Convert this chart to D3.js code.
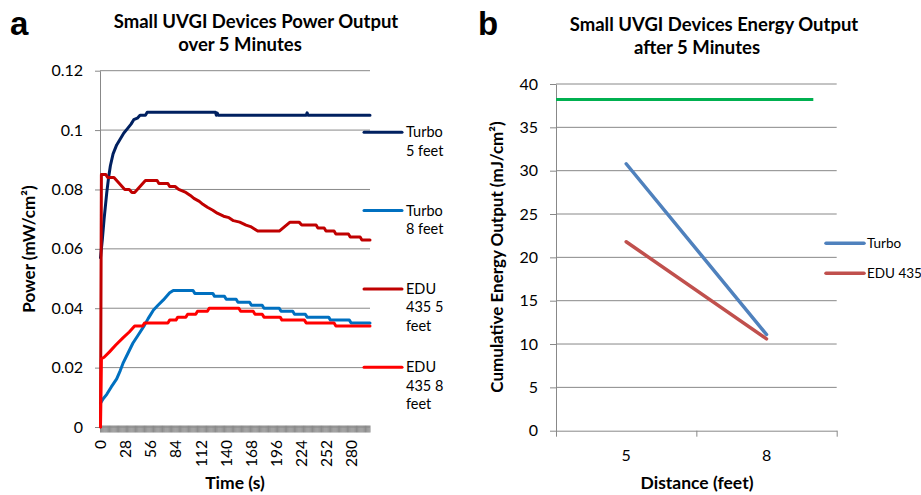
<!DOCTYPE html>
<html><head><meta charset="utf-8">
<script src="https://cdn.jsdelivr.net/npm/d3@7/dist/d3.min.js"></script>
<style>
body{margin:0;background:#fff}
text{font-family:Lato,"Open Sans",sans-serif;fill:#000}
</style>
</head><body>
<svg id="chart" width="921" height="495"></svg>
<script>
// ---------- Panel a data ----------
const timeTicks = [0,28,56,84,112,140,168,196,224,252,280];
const powerTicks = [0,0.02,0.04,0.06,0.08,0.1,0.12];
const turbo5 = [[0,0.057],[2,0.063],[4,0.070],[7,0.079],[9,0.084],[11,0.088],[14,0.092],[18,0.095],[22,0.097],[26,0.099],[30,0.1005],[34,0.102],[37,0.1035],[41,0.104],[44,0.105],[50,0.105],[52,0.106],[128,0.106],[129,0.105],[130,0.1057],[131,0.105],[229,0.105],[230,0.1058],[231,0.105],[300,0.105]];
const turbo8 = [[0,0.008],[3,0.0095],[7,0.011],[12,0.0135],[18,0.0162],[22,0.019],[25,0.0214],[30,0.0245],[36,0.0282],[42,0.031],[48,0.0338],[53,0.0365],[59,0.0394],[64,0.041],[70,0.0428],[77,0.0452],[81,0.046],[103,0.046],[105,0.045],[125,0.045],[127,0.044],[138,0.044],[140,0.043],[151,0.043],[153,0.042],[166,0.042],[168,0.041],[180,0.041],[182,0.040],[199,0.040],[201,0.039],[214,0.039],[216,0.038],[228,0.038],[230,0.037],[254,0.037],[256,0.036],[277,0.036],[279,0.035],[300,0.035]];
const edu5 = [[0,0],[1,0.085],[6,0.085],[8,0.084],[15,0.084],[18,0.083],[21,0.082],[24,0.081],[27,0.080],[32,0.080],[35,0.079],[38,0.079],[41,0.080],[44,0.081],[47,0.082],[50,0.083],[63,0.083],[65,0.082],[75,0.082],[77,0.081],[83,0.081],[87,0.080],[95,0.079],[100,0.078],[104,0.077],[110,0.076],[114,0.075],[119,0.074],[125,0.073],[130,0.072],[137,0.071],[143,0.0705],[148,0.0695],[155,0.069],[162,0.068],[167,0.0675],[175,0.066],[199,0.066],[203,0.067],[207,0.068],[211,0.069],[221,0.069],[224,0.068],[240,0.068],[242,0.067],[249,0.067],[251,0.066],[260,0.066],[262,0.065],[276,0.065],[278,0.064],[289,0.064],[291,0.063],[300,0.063]];
const edu8 = [[0,0],[1,0.023],[4,0.0235],[10,0.0253],[17,0.0276],[25,0.030],[32,0.032],[38,0.034],[47,0.034],[49,0.035],[75,0.035],[77,0.036],[84,0.036],[86,0.037],[95,0.037],[97,0.038],[106,0.038],[108,0.039],[119,0.039],[121,0.040],[154,0.040],[156,0.039],[170,0.039],[172,0.038],[180,0.038],[182,0.037],[200,0.037],[202,0.036],[227,0.036],[229,0.035],[260,0.035],[262,0.034],[300,0.034]];
const seriesA = [
  {name:["Turbo","5 feet"], color:"#002060", data:turbo5},
  {name:["Turbo","8 feet"], color:"#0070c0", data:turbo8},
  {name:["EDU","435 5","feet"], color:"#c00000", data:edu5},
  {name:["EDU","435 8","feet"], color:"#ff0000", data:edu8}
];

// ---------- Panel b data ----------
const distances = [5, 8];
const energyTicks = [0,5,10,15,20,25,30,35,40];
const turboEnergy = [30.8, 11.1];
const eduEnergy = [21.8, 10.6];
const greenLevel = 38.2;
const greenSpan = [3.5, 9];
const seriesB = [
  {name:"Turbo", color:"#4f81bd", values:turboEnergy},
  {name:"EDU 435", color:"#c0504d", values:eduEnergy}
];

const svg = d3.select("#chart");
const grid = "#888888";

// ================= Panel a =================
const xL = d3.scaleLinear().domain([0,300]).range([100.5,370]);
const yL = d3.scaleLinear().domain([0,0.12]).range([427,70.7]);
const gA = svg.append("g");

gA.append("text").attr("x",10).attr("y",35).style("font-family","Liberation Sans, Arial, sans-serif")
  .style("font-weight","bold").style("font-size","33px").text("a");
gA.append("text").attr("x",256).attr("y",28).attr("text-anchor","middle")
  .style("font-weight","bold").style("font-size","18.5px").text("Small UVGI Devices Power Output");
gA.append("text").attr("x",240).attr("y",51).attr("text-anchor","middle")
  .style("font-weight","bold").style("font-size","18.5px").text("over 5 Minutes");

// gridlines
gA.selectAll("line.grid").data(powerTicks.filter(d=>d>0)).join("line")
  .attr("x1",100).attr("x2",370).attr("y1",d=>yL(d)).attr("y2",d=>yL(d))
  .attr("stroke",grid).attr("stroke-width",1);

// y axis
const yAxL = gA.append("g").attr("transform","translate(100,0)")
  .call(d3.axisLeft(yL).tickValues(powerTicks).tickSize(5).tickSizeOuter(0).tickPadding(12)
    .tickFormat(d=>String(+d.toFixed(2))));
yAxL.select(".domain").attr("stroke",grid);
yAxL.selectAll(".tick line").attr("stroke",grid);
yAxL.selectAll(".tick text").style("font-size","16px").style("font-family","Lato, sans-serif");

// dense category tick band on x axis
gA.selectAll("line.band").data(d3.range(0,301)).join("line")
  .attr("x1",d=>xL(d)).attr("x2",d=>xL(d)).attr("y1",425.5).attr("y2",432.5)
  .attr("stroke","#8c8c8c").attr("stroke-width",1);
gA.append("line").attr("x1",100).attr("x2",370).attr("y1",427).attr("y2",427).attr("stroke",grid);

// x tick labels
gA.selectAll("text.xt").data(timeTicks).join("text")
  .attr("transform",d=>`translate(${xL(d)},440) rotate(-90)`)
  .attr("text-anchor","end").attr("dy","0.35em").style("font-size","15.5px").text(d=>d);

// lines
const lineA = d3.line().x(d=>xL(d[0])).y(d=>yL(d[1]));
gA.selectAll("path.s").data(seriesA).join("path")
  .attr("d",d=>lineA(d.data)).attr("fill","none").attr("stroke",d=>d.color)
  .attr("stroke-width",3).attr("stroke-linejoin","round").attr("stroke-linecap","round");

// legend
const legA = gA.selectAll("g.leg").data(seriesA).join("g")
  .attr("transform",(d,i)=>`translate(0,${132.3+i*78.3})`);
legA.append("line").attr("x1",364).attr("x2",402).attr("stroke",d=>d.color)
  .attr("stroke-width",3).attr("stroke-linecap","round");
legA.each(function(d){
  d3.select(this).selectAll("text").data(d.name).join("text")
    .attr("x",406).attr("y",(t,j)=>5+j*18.5).style("font-size","14.5px").text(t=>t);
});

// axis titles
gA.append("text").attr("transform","translate(35,249) rotate(-90)").attr("text-anchor","middle")
  .style("font-weight","bold").style("font-size","17px").text("Power (mW/cm²)");
gA.append("text").attr("x",235).attr("y",489).attr("text-anchor","middle")
  .style("font-weight","bold").style("font-size","17.5px").text("Time (s)");

// ================= Panel b =================
const xR = d3.scaleLinear().domain([3.5,9.5]).range([556,836.7]);
const yR = d3.scaleLinear().domain([0,40]).range([430.7,84]);
const gB = svg.append("g");

gB.append("text").attr("x",478).attr("y",35).style("font-family","Liberation Sans, Arial, sans-serif")
  .style("font-weight","bold").style("font-size","33px").text("b");
gB.append("text").attr("x",714).attr("y",31).attr("text-anchor","middle")
  .style("font-weight","bold").style("font-size","18.5px").text("Small UVGI Devices Energy Output");
gB.append("text").attr("x",697).attr("y",54).attr("text-anchor","middle")
  .style("font-weight","bold").style("font-size","18.5px").text("after 5 Minutes");

gB.selectAll("line.grid").data(energyTicks.filter(d=>d>0)).join("line")
  .attr("x1",556).attr("x2",836.7).attr("y1",d=>yR(d)).attr("y2",d=>yR(d))
  .attr("stroke",grid).attr("stroke-width",1);

const yAxR = gB.append("g").attr("transform","translate(556,0)")
  .call(d3.axisLeft(yR).tickValues(energyTicks).tickSize(6).tickSizeOuter(0).tickPadding(12));
yAxR.select(".domain").attr("stroke",grid);
yAxR.selectAll(".tick line").attr("stroke",grid);
yAxR.selectAll(".tick text").style("font-size","16px").style("font-family","Lato, sans-serif");

const xAxR = gB.append("g").attr("transform","translate(0,430.7)")
  .call(d3.axisBottom(xR).tickValues([3.5,6.5,9.5]).tickSize(6).tickSizeOuter(0).tickFormat(""));
xAxR.select(".domain").attr("stroke",grid);
xAxR.selectAll(".tick line").attr("stroke",grid);

gB.selectAll("text.xt").data(distances).join("text")
  .attr("x",d=>xR(d)).attr("y",461).attr("text-anchor","middle").style("font-size","16px").text(d=>d);

// green level line
gB.append("path").datum(greenSpan)
  .attr("d",d3.line().x(d=>xR(d)).y(()=>yR(greenLevel)))
  .attr("fill","none").attr("stroke","#00b050").attr("stroke-width",3);

const lineB = d3.line().x((d,i)=>xR(distances[i])).y(d=>yR(d));
gB.selectAll("path.s").data(seriesB).join("path")
  .attr("d",d=>lineB(d.values)).attr("fill","none").attr("stroke",d=>d.color)
  .attr("stroke-width",3.5).attr("stroke-linecap","round");

const legB = gB.selectAll("g.leg").data(seriesB).join("g")
  .attr("transform",(d,i)=>`translate(0,${243.3+i*30})`);
legB.append("line").attr("x1",826).attr("x2",864).attr("stroke",d=>d.color)
  .attr("stroke-width",3.5).attr("stroke-linecap","round");
legB.append("text").attr("x",867).attr("y",4.5).style("font-size","13.5px").text(d=>d.name);

gB.append("text").attr("transform","translate(503,257) rotate(-90)").attr("text-anchor","middle")
  .style("font-weight","bold").style("font-size","17px").text("Cumulative Energy Output (mJ/cm²)");
gB.append("text").attr("x",697).attr("y",489).attr("text-anchor","middle")
  .style("font-weight","bold").style("font-size","17.5px").text("Distance (feet)");
</script>
</body></html>
